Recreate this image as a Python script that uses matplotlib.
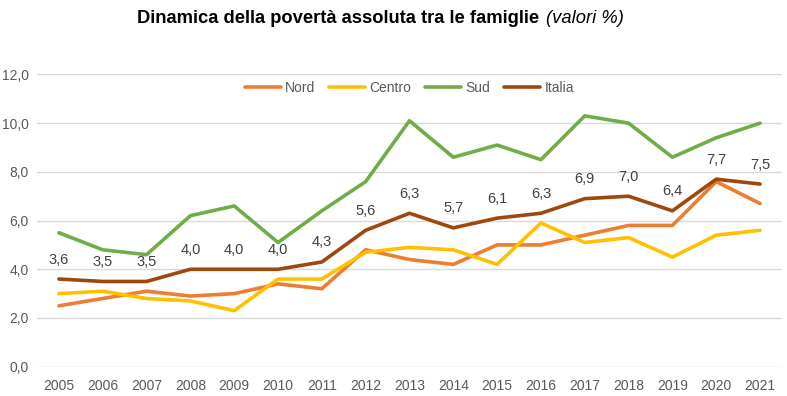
import matplotlib.pyplot as plt

anni = list(range(2005, 2022))
nord = [2.5, 2.8, 3.1, 2.9, 3.0, 3.4, 3.2, 4.8, 4.4, 4.2, 5.0, 5.0, 5.4, 5.8, 5.8, 7.6, 6.7]
centro = [3.0, 3.1, 2.8, 2.7, 2.3, 3.6, 3.6, 4.7, 4.9, 4.8, 4.2, 5.9, 5.1, 5.3, 4.5, 5.4, 5.6]
sud = [5.5, 4.8, 4.6, 6.2, 6.6, 5.1, 6.4, 7.6, 10.1, 8.6, 9.1, 8.5, 10.3, 10.0, 8.6, 9.4, 10.0]
italia = [3.6, 3.5, 3.5, 4.0, 4.0, 4.0, 4.3, 5.6, 6.3, 5.7, 6.1, 6.3, 6.9, 7.0, 6.4, 7.7, 7.5]

plt.rcParams['font.family'] = ['Liberation Sans', 'DejaVu Sans']

fig = plt.figure(figsize=(7.87, 3.96), dpi=100)
ax = fig.add_axes([0.047, 0.074, 0.9466, 0.738])

ax.plot(anni, nord, color='#ED7D31', lw=2.6, label='Nord', solid_capstyle='round')
ax.plot(anni, centro, color='#FFC000', lw=2.6, label='Centro', solid_capstyle='round')
ax.plot(anni, sud, color='#70AD47', lw=2.6, label='Sud', solid_capstyle='round')
ax.plot(anni, italia, color='#9E480E', lw=2.6, label='Italia', solid_capstyle='round')

# etichette dati Italia
for a, v in zip(anni, italia):
    ax.annotate(f'{v:.1f}'.replace('.', ','), xy=(a, v), xytext=(0, 9),
                textcoords='offset points', ha='center', va='bottom',
                fontsize=10.5, color='#404040')

ax.set_xlim(2004.5, 2021.5)
ax.set_ylim(0, 12)
ax.set_xticks(anni)
ax.set_yticks([0, 2, 4, 6, 8, 10, 12])
ax.set_yticklabels([f'{v:.1f}'.replace('.', ',') for v in [0, 2, 4, 6, 8, 10, 12]])
ax.tick_params(axis='both', length=0, labelsize=10, colors='#595959')
ax.tick_params(axis='x', pad=9)
ax.tick_params(axis='y', pad=6)
ax.grid(axis='y', color='#D9D9D9', lw=1)
ax.set_axisbelow(True)
for s in ax.spines.values():
    s.set_visible(False)

ax.legend(loc='center', bbox_to_anchor=(0.5, 0.955), ncol=4, frameon=False,
          fontsize=10, handlelength=2.6, handletextpad=0.3, columnspacing=1.0,
          labelcolor='#595959')

fig.text(137 / 787, 0.953, 'Dinamica della povertà assoluta tra le famiglie', ha='left',
         va='center', fontsize=13.2, fontweight='bold', color='black')
fig.text(546 / 787, 0.953, '(valori %)', ha='left', va='center', fontsize=13.2,
         fontstyle='italic', color='black')

fig.savefig('out.png', dpi=100)
